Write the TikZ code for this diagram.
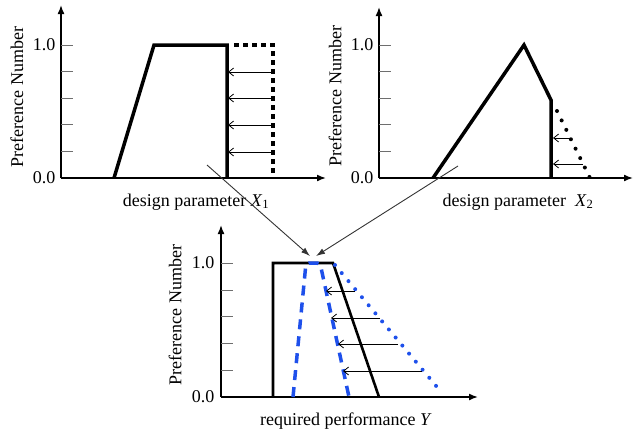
\documentclass[tikz,border=0pt]{standalone}
\usepackage{fontspec}
\setmainfont{Liberation Serif}
\usepackage{tikz}
\usetikzlibrary{arrows.meta}
\definecolor{prefblue}{RGB}{30,80,235}
\definecolor{tickgray}{RGB}{110,110,110}

\begin{document}
\begin{tikzpicture}[x=1pt,y=-1pt,>=Latex,font=\fontsize{18}{20}\selectfont,
    axis/.style={line width=1.6pt,-{Latex[length=9pt,width=7pt]}},
    curve/.style={line width=3.5pt,line join=miter},
    pull/.style={line width=0.8pt,-{Straight Barb[length=5pt,width=8pt]}},
    link/.style={line width=0.9pt,draw=black!80,-{Latex[length=9pt,width=6pt]}}]
  \useasboundingbox (0,0) rectangle (636,432);

  \coordinate (o1) at (61,178);
  \coordinate (y1) at (61,5);
  \coordinate (x1) at (326,178);
  \draw[axis] (o1) -- (y1);
  \draw[axis] (o1) -- (x1);
  \foreach \k in {1,...,5} \draw[tickgray,line width=1pt] (61,178-26.6*\k) -- ++(12,0);
  \node (one1) [anchor=east] at (59,45) {1.0};
  \node (zero1) [anchor=east] at (59,178) {0.0};
  \node (lab1) [rotate=90] at (17,97) {Preference Number};
  \node (name1) at (196,202) {design parameter \textit{X}\textsubscript{1}};
  \draw[curve] (114,178) -- (154,45) -- (227,45) -- (227,178);
  \draw[line width=4.5pt,dash pattern=on 4.5pt off 4.5pt] (234,45) -- (273,45) -- (273,178);
  \foreach \y in {72,98,125,152} \draw[pull] (273,\y) -- (228,\y);

  \coordinate (o2) at (379,178);
  \coordinate (y2) at (379,7);
  \coordinate (x2) at (633,178);
  \draw[axis] (o2) -- (y2);
  \draw[axis] (o2) -- (x2);
  \foreach \k in {1,...,5} \draw[tickgray,line width=1pt] (379,178-26.6*\k) -- ++(12,0);
  \node (one2) [anchor=east] at (377,45) {1.0};
  \node (zero2) [anchor=east] at (377,178) {0.0};
  \node (lab2) [rotate=90] at (335,96) {Preference Number};
  \node (name2) at (518,202) {design parameter\enspace\textit{X}\textsubscript{2}};
  \draw[curve] (433,178) -- (524,45) -- (551,100) -- (551,178);
  \draw[line width=4pt,line cap=round,dash pattern=on 0pt off 10.5pt] (557,111) -- (590,178);
  \draw[pull] (570,138) -- (553,138);
  \draw[pull] (583,164) -- (553,164);

  \coordinate (o3) at (221,397);
  \coordinate (y3) at (221,225);
  \coordinate (x3) at (478,397);
  \draw[axis] (o3) -- (y3);
  \draw[axis] (o3) -- (x3);
  \foreach \k in {1,...,5} \draw[tickgray,line width=1pt] (221,397-26.7*\k) -- ++(12,0);
  \node (one3) [anchor=east] at (218,263) {1.0};
  \node (zero3) [anchor=east] at (218,397) {0.0};
  \node (lab3) [rotate=90] at (175,315) {Preference Number};
  \node (name3) at (346,421) {required performance \textit{Y}};
  \draw[line width=2.6pt] (273,397) -- (273,263) -- (333,263) -- (379,397);
  \draw[prefblue,line width=3.5pt,dash pattern=on 10pt off 7pt,rounded corners=3pt] (293,397) -- (306,263) -- (320,263) -- (349,397);
  \draw[prefblue,line width=4pt,line cap=round,dash pattern=on 0pt off 10.5pt] (335,265) -- (442,393);
  \draw[pull] (355,291) -- (326,291);
  \draw[pull] (380,318) -- (331,318);
  \draw[pull] (398,344) -- (338,344);
  \draw[pull] (422,371) -- (343,371);

  \coordinate (from1) at (207,165);
  \coordinate (to1) at (310,256);
  \coordinate (from2) at (458,166);
  \coordinate (to2) at (316,256);
  \draw[link] (from1) -- (to1);
  \draw[link] (from2) -- (to2);
\end{tikzpicture}
\end{document}
